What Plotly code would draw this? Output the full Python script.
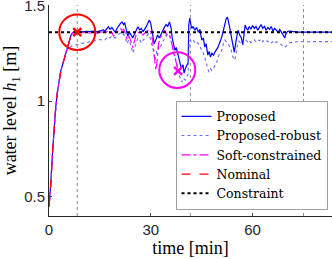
import plotly.graph_objects as go

# ---- data (time in minutes, water level in m) ----
rise_t = [0, 0.5, 1, 1.5, 2, 2.5, 3, 3.5, 4, 4.5, 5, 5.5, 6, 6.5, 7, 7.5, 8, 8.33]
rise_h = [0.45, 0.56, 0.72, 0.86, 0.97, 1.05, 1.11, 1.16, 1.19, 1.22, 1.26, 1.29, 1.32, 1.345, 1.358, 1.36, 1.36, 1.36]

prop_t = [9, 10, 11, 12, 13, 14, 15, 16, 16.5, 17, 17.5, 18, 18.5, 19, 19.5, 20, 20.5, 21, 21.5, 22,
          22.3, 22.7, 23.2, 23.7, 24.2, 24.7, 25.2, 25.7, 26.2, 26.7, 27.2, 27.7, 28.2, 28.7, 29.2, 29.6,
          30, 30.5, 31, 31.5, 32, 32.5, 33, 33.5, 34, 34.5, 35, 35.5, 36, 36.3, 36.7, 37.1, 37.5, 38, 38.5,
          39, 39.5, 39.8, 40.2, 40.6, 41, 41.2, 41.5, 41.8, 42.1, 42.5, 43, 43.5, 44, 44.5, 45, 45.5, 45.9,
          46.3, 46.8, 47.2, 47.6, 48, 48.5, 48.9, 49.4, 49.8, 50.4, 50.9, 51.4, 51.8, 52.2, 52.6, 53, 53.3,
          53.8, 54.2, 54.6, 55, 55.4, 55.7, 56.2, 56.7, 57.1, 57.5, 57.8, 58.2, 58.6, 59, 59.5, 60, 60.5, 61,
          61.5, 62, 62.5, 63, 63.5, 64, 64.5, 65, 65.5, 66, 66.5, 67, 67.5, 68, 68.5, 69, 69.5, 69.8, 70.3,
          71, 72, 73, 83.4]
prop_h = [1.36, 1.362, 1.365, 1.363, 1.366, 1.362, 1.368, 1.372, 1.365, 1.38, 1.388, 1.375, 1.385, 1.372, 1.36, 1.378, 1.395, 1.405, 1.414, 1.40,
          1.41, 1.385, 1.34, 1.36, 1.345, 1.33, 1.35, 1.37, 1.388, 1.372, 1.38, 1.362, 1.375, 1.39, 1.41, 1.423,
          1.405, 1.36, 1.30, 1.32, 1.345, 1.33, 1.35, 1.37, 1.385, 1.40, 1.39, 1.414, 1.38, 1.33, 1.30, 1.266, 1.28, 1.24, 1.20,
          1.172, 1.19, 1.146, 1.17, 1.188, 1.20, 1.40, 1.434, 1.40, 1.38, 1.39, 1.37, 1.385, 1.36, 1.375, 1.319, 1.33, 1.282,
          1.30, 1.24, 1.26, 1.23, 1.25, 1.24, 1.256, 1.27, 1.282, 1.31, 1.334, 1.37, 1.40, 1.43, 1.439, 1.41, 1.38,
          1.33, 1.30, 1.256, 1.30, 1.334, 1.37, 1.345, 1.33, 1.293, 1.36, 1.397, 1.38, 1.37, 1.39, 1.375, 1.395, 1.38, 1.39,
          1.37, 1.385, 1.40, 1.38, 1.39, 1.37, 1.385, 1.375, 1.39, 1.365, 1.38, 1.37, 1.36, 1.375, 1.36, 1.34, 1.33, 1.35, 1.365,
          1.366, 1.362, 1.36, 1.36]

rob_t = [5.5, 6, 6.5, 7, 8, 9, 10, 11, 12, 13, 14, 15, 16, 16.5, 17, 17.5, 18, 18.5, 19, 19.5, 20, 20.5, 21,
         21.5, 22, 22.5, 23, 23.5, 24, 24.7, 25.2, 25.7, 26.2, 26.7, 27.3, 27.8, 28.3, 28.8, 29.3, 29.8, 30.3,
         30.8, 31.2, 31.6, 32, 32.5, 33, 33.5, 34, 34.5, 35, 35.5, 36, 36.5, 37, 37.5, 38, 38.5, 39.1, 39.6,
         40.1, 40.6, 41, 41.3, 41.6, 42, 42.5, 43, 43.5, 44, 44.5, 45, 45.5, 45.9, 46.3, 46.8, 47.1, 47.6, 48,
         48.5, 48.9, 49.4, 49.8, 50.4, 50.9, 51.4, 51.8, 52.3, 52.8, 53.3, 53.8, 54.2, 54.8, 55.2, 55.6, 56,
         56.5, 57, 57.5, 58, 58.5, 59, 59.5, 60, 60.5, 61, 61.5, 62, 62.5, 63, 63.5, 64, 64.5, 65, 65.5, 66,
         66.5, 67, 67.5, 68, 68.5, 69, 69.5, 70, 70.5, 71, 72, 73, 83.4]
rob_h = [1.27, 1.28, 1.285, 1.29, 1.295, 1.30, 1.303, 1.305, 1.31, 1.315, 1.318, 1.322, 1.318, 1.32, 1.33, 1.336, 1.33, 1.34, 1.335, 1.33, 1.34, 1.35, 1.355,
         1.345, 1.35, 1.33, 1.30, 1.32, 1.30, 1.251, 1.28, 1.31, 1.33, 1.32, 1.303, 1.32, 1.33, 1.34, 1.35, 1.33, 1.30,
         1.26, 1.214, 1.25, 1.28, 1.27, 1.29, 1.31, 1.33, 1.345, 1.335, 1.345, 1.31, 1.27, 1.23, 1.21, 1.162, 1.13, 1.099, 1.12,
         1.11, 1.125, 1.14, 1.30, 1.319, 1.31, 1.32, 1.303, 1.31, 1.30, 1.29, 1.26, 1.25, 1.23, 1.20, 1.17, 1.152, 1.17, 1.16,
         1.172, 1.188, 1.20, 1.23, 1.25, 1.266, 1.30, 1.319, 1.31, 1.30, 1.282, 1.26, 1.23, 1.214, 1.26, 1.30, 1.313,
         1.30, 1.293, 1.31, 1.32, 1.31, 1.318, 1.305, 1.315, 1.32, 1.31, 1.32, 1.315, 1.325, 1.31, 1.32, 1.318, 1.31, 1.315, 1.305, 1.31,
         1.30, 1.31, 1.305, 1.30, 1.295, 1.285, 1.28, 1.29, 1.30, 1.305, 1.308, 1.31, 1.311]

soft_t = [9, 10, 11, 12, 13, 14, 15, 16, 16.5, 17, 17.5, 18, 18.5, 19, 19.5, 20, 20.5, 21, 21.5, 22, 22.5,
          23, 23.5, 24, 24.7, 25.2, 25.7, 26.2, 26.7, 27.2, 27.7, 28.2, 28.7, 29.2, 29.6, 30, 30.5, 31, 31.5,
          31.8, 32.3, 32.8, 33.2, 33.7, 34.1, 34.6, 35, 35.6, 36.2, 36.6, 37.1, 37.5, 38.05]
soft_h = [1.36, 1.358, 1.36, 1.355, 1.36, 1.355, 1.36, 1.362, 1.355, 1.365, 1.37, 1.355, 1.36, 1.34, 1.35, 1.36, 1.37, 1.38, 1.37, 1.375, 1.355,
          1.32, 1.34, 1.32, 1.28, 1.32, 1.35, 1.36, 1.355, 1.36, 1.345, 1.355, 1.365, 1.37, 1.375, 1.36, 1.32, 1.25, 1.162,
          1.20, 1.30, 1.33, 1.345, 1.36, 1.371, 1.35, 1.345, 1.345, 1.30, 1.266, 1.23, 1.20, 1.158]

constraint_level = 1.36
t_span = [0, 83.4]
event_times = [8.33, 41.67, 75]
nominal_violation = (8.33, 1.36)
soft_violation = (38.05, 1.158)
soft_circle_center = (37.8, 1.162)
circle_r = (5.3, 0.093)

# ---- build series ----
robust_rise_idx = 11  # robust follows the common rise until t=5
prop_x = rise_t + prop_t
prop_y = rise_h + prop_h
rob_x = rise_t[:robust_rise_idx] + rob_t
rob_y = rise_h[:robust_rise_idx] + rob_h
soft_x = rise_t[:-1] + soft_t
soft_y = rise_h[:-1] + soft_h

serif = "Liberation Serif"
fig = go.Figure()
fig.add_trace(go.Scatter(x=prop_x, y=prop_y, mode="lines", name="Proposed",
                         line=dict(color="#0000ff", width=1.2)))
fig.add_trace(go.Scatter(x=rob_x, y=rob_y, mode="lines", name="Proposed-robust",
                         line=dict(color="#6a6aff", width=1.1, dash="dot")))
fig.add_trace(go.Scatter(x=soft_x, y=soft_y, mode="lines", name="Soft-constrained",
                         line=dict(color="#ff00ff", width=1.2, dash="dashdot")))
fig.add_trace(go.Scatter(x=rise_t, y=rise_h, mode="lines", name="Nominal",
                         line=dict(color="#ff0000", width=1.2, dash="dash")))
fig.add_trace(go.Scatter(x=t_span, y=[constraint_level] * 2, mode="lines", name="Constraint",
                         line=dict(color="#000000", width=2, dash="dot")))
fig.add_trace(go.Scatter(x=[nominal_violation[0]], y=[nominal_violation[1]], mode="markers",
                         marker=dict(symbol="x-thin", size=8, line=dict(color="#ff0000", width=2.5)),
                         showlegend=False))
fig.add_trace(go.Scatter(x=[soft_violation[0]], y=[soft_violation[1]], mode="markers",
                         marker=dict(symbol="x-thin", size=8, line=dict(color="#ff00ff", width=2.5)),
                         showlegend=False))

for et in event_times:
    fig.add_shape(type="line", x0=et, x1=et, y0=0, y1=1, xref="x", yref="paper",
                  line=dict(color="#8c8c8c", width=1, dash="dot"), layer="below")

for (cx, cy), col in [(nominal_violation, "#ff0000"), (soft_circle_center, "#ff00ff")]:
    fig.add_shape(type="circle", xref="x", yref="y",
                  x0=cx - circle_r[0], x1=cx + circle_r[0],
                  y0=cy - circle_r[1], y1=cy + circle_r[1],
                  line=dict(color=col, width=2))

fig.update_layout(
    width=332, height=259,
    margin=dict(l=49, r=0, t=5, b=43, autoexpand=False),
    paper_bgcolor="white", plot_bgcolor="white",
    font=dict(family="Liberation Sans", size=15, color="#262626"),
    legend=dict(x=0.447, y=0.03, xanchor="left", yanchor="bottom",
                bgcolor="white", bordercolor="#a0a0a0", borderwidth=1,
                font=dict(family="DejaVu Serif", size=12.5, color="#000000"),
                tracegroupgap=0, itemwidth=30),
    showlegend=True,
)
fig.update_xaxes(range=t_span, tickvals=[0, 30, 60], ticks="inside", ticklen=3,
                 showline=True, linecolor="#262626", linewidth=1, showgrid=False, zeroline=False,
                 automargin=False, ticklabeloverflow="allow",
                 title=dict(text="time [min]", font=dict(family=serif, size=18, color="#000000"), standoff=2))
fig.update_yaxes(range=[0.4, 1.502], tickvals=[0.5, 1, 1.5], ticktext=["0.5", "1", "1.5"],
                 ticks="inside", ticklen=3, automargin=False, ticklabeloverflow="allow",
                 showline=True, linecolor="#262626", linewidth=1, showgrid=False, zeroline=False,
                 title=dict(text="water level <i>h</i><sub>1</sub> [m]",
                            font=dict(family=serif, size=18, color="#000000"), standoff=4))

fig.write_html("out.html", post_script="document.body.style.margin='0';",
               config={"displayModeBar": False})
